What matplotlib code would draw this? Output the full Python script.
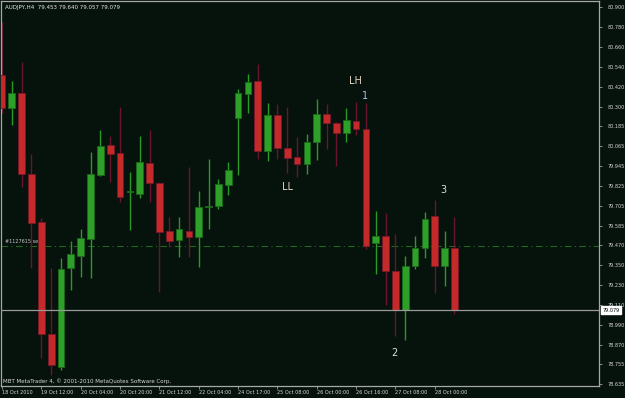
import numpy as np
import matplotlib
matplotlib.use("Agg")
import matplotlib.pyplot as plt

# AUDJPY H4 candles (open, high, low, close)
opens = [80.491, 80.293, 80.383, 79.897, 79.608, 78.935, 78.737, 79.332, 79.404, 79.506,
         79.891, 80.071, 80.023, 79.789, 79.777, 79.963, 79.843, 79.554, 79.500, 79.554,
         79.518, 79.701, 79.704, 79.831, 80.233, 80.377, 80.455, 80.035, 80.251, 80.053,
         79.999, 79.957, 80.089, 80.257, 80.203, 80.143, 80.215, 80.167, 79.482, 79.524,
         79.314, 79.080, 79.344, 79.452, 79.644, 79.344, 79.453]
highs = [80.810, 80.455, 80.570, 80.017, 79.632, 79.332, 79.392, 79.494, 79.566, 80.029,
         80.161, 80.125, 80.299, 79.909, 80.125, 80.161, 79.849, 79.638, 79.638, 79.939,
         79.795, 79.987, 79.867, 79.969, 80.407, 80.497, 80.558, 80.323, 80.317, 80.299,
         80.119, 80.137, 80.347, 80.317, 80.209, 80.293, 80.329, 80.323, 79.674, 79.662,
         79.536, 79.404, 79.524, 79.668, 79.740, 79.554, 79.640]
lows = [80.263, 80.191, 79.819, 79.332, 78.791, 78.689, 78.719, 79.200, 79.278, 79.272,
        79.885, 79.849, 79.728, 79.560, 79.753, 79.728, 79.188, 79.458, 79.398, 79.398,
        79.338, 79.566, 79.686, 79.771, 79.891, 80.263, 79.987, 79.975, 79.987, 79.903,
        79.879, 79.897, 79.981, 80.047, 79.945, 80.089, 80.131, 79.446, 79.296, 79.110,
        78.923, 78.899, 79.326, 79.392, 79.182, 79.224, 79.057]
closes = [80.293, 80.383, 79.897, 79.602, 78.935, 78.749, 79.326, 79.416, 79.512, 79.897,
          80.065, 80.017, 79.759, 79.795, 79.969, 79.843, 79.548, 79.494, 79.566, 79.518,
          79.698, 79.704, 79.837, 79.921, 80.383, 80.449, 80.035, 80.251, 80.053, 79.993,
          79.957, 80.089, 80.257, 80.203, 80.143, 80.221, 80.167, 79.464, 79.524, 79.314,
          79.080, 79.344, 79.452, 79.626, 79.344, 79.452, 79.079]

price_ticks = [80.900, 80.780, 80.660, 80.540, 80.420, 80.300, 80.185, 80.065, 79.945, 79.825,
               79.705, 79.585, 79.470, 79.350, 79.230, 79.110, 78.990, 78.870, 78.755, 78.635]
date_tick_bars = [0, 4, 8, 12, 16, 20, 24, 28, 32, 36, 40, 44]
date_labels = ["18 Oct 2010", "19 Oct 12:00", "20 Oct 04:00", "20 Oct 20:00", "21 Oct 12:00",
               "22 Oct 04:00", "24 Oct 17:00", "25 Oct 08:00", "26 Oct 00:00", "26 Oct 16:00",
               "27 Oct 08:00", "28 Oct 00:00"]

# swing annotations: (bar, price, text, colour)
notes = [(35.9, 80.455, "LH", "#e8d8c8"),
         (36.9, 80.365, "1", "#a8c8e8"),
         (29.0, 79.819, "LL", "#e8d8c8"),
         (39.9, 78.820, "2", "#e0e0e0"),
         (44.9, 79.800, "3", "#e0e0e0")]

order_price = 79.464
last_price = 79.079

BG = "#06120c"
UP = "#2ea02a"
DOWN = "#c42a2a"
UP_WICK = "#2a9a26"
DOWN_WICK = "#6a1430"
plt.rcParams["font.family"] = ["DejaVu Sans"]
plt.rcParams["font.stretch"] = "condensed"
SMALL = 4.0

fig = plt.figure(figsize=(6.25, 3.98), dpi=100, facecolor=BG)
ax = fig.add_axes([1 / 625, 12 / 398, 598 / 625, 385 / 398])
ax.set_facecolor(BG)

x = np.arange(len(opens))
o = np.array(opens)
c = np.array(closes)
up = c >= o

ax.vlines(x[up], np.array(lows)[up], np.array(highs)[up], color=UP_WICK, lw=1, zorder=2)
ax.vlines(x[~up], np.array(lows)[~up], np.array(highs)[~up], color=DOWN_WICK, lw=1, zorder=2)

bottoms = np.minimum(o, c)
heights = np.maximum(np.abs(c - o), 0.004)
ax.bar(x[up], heights[up], bottom=bottoms[up], width=0.68, color=UP,
       edgecolor="#1c6a1a", lw=0.6, zorder=3)
ax.bar(x[~up], heights[~up], bottom=bottoms[~up], width=0.68, color=DOWN,
       edgecolor="#7a1828", lw=0.6, zorder=3)

# pending order line and bid line
ax.axhline(order_price, color="#1f6a1f", lw=0.8, ls=(0, (6, 3, 1, 3)), zorder=1)
ax.text(0.3, order_price + 0.012, "#1127615 se", color="#c8c8c8", fontsize=SMALL,
        va="bottom", ha="left", zorder=4)
ax.axhline(last_price, color="#9a9a9a", lw=0.9, zorder=4)

for bx, by, txt, col in notes:
    ax.text(bx, by, txt, color=col, fontsize=7, ha="center", va="center",
            fontstretch="normal", zorder=5)

ax.set_xlim(-0.1, 60.7)
ax.set_ylim(78.623, 80.936)

ax.yaxis.tick_right()
ax.set_yticks(price_ticks)
ax.set_yticklabels([f"{p:.3f}" for p in price_ticks])
ax.set_xticks(date_tick_bars)
ax.set_xticklabels(date_labels, ha="left")
ax.tick_params(axis="y", colors="#a0a0a0", labelcolor="#d8d8d8", labelsize=SMALL,
               length=2, width=0.6, pad=4)
ax.tick_params(axis="x", colors="#a0a0a0", labelcolor="#d8d8d8", labelsize=SMALL,
               length=2, width=0.6, pad=1)
for s in ax.spines.values():
    s.set_color("#a8a8a8")
    s.set_linewidth(0.9)

# current price tag on the price scale
ax.annotate(f"{last_price:.3f}", xy=(1.0, last_price), xycoords=("axes fraction", "data"),
            xytext=(2.5, 0), textcoords="offset points", fontsize=SMALL, color="black",
            va="center", ha="left",
            bbox=dict(boxstyle="square,pad=0.25", fc="white", ec="white"))

fig.text(5 / 625, 1 - 7 / 398, "AUDJPY,H4  79.453 79.640 79.057 79.079",
         color="#e8e8e8", fontsize=4.4, va="center", ha="left")
fig.text(3 / 625, 1 - 381 / 398, "MBT MetaTrader 4, © 2001-2010 MetaQuotes Software Corp.",
         color="#d8d8d8", fontsize=4.4, va="center", ha="left")

fig.savefig("out.png", dpi=100, facecolor=BG)
